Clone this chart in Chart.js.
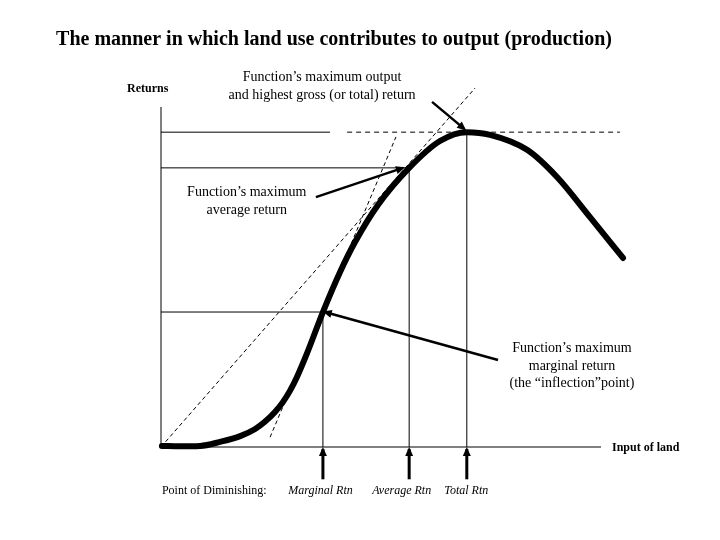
<!DOCTYPE html>
<html>
<head>
<meta charset="utf-8">
<script src="https://cdn.jsdelivr.net/npm/chart.js@4/dist/chart.umd.min.js"></script>
<style>
    html, body { margin: 0; padding: 0; background: #ffffff; }
    #chart { display: block; }
</style>
</head>
<body>
<canvas id="chart" width="720" height="540"></canvas>
<script>
// Production function: input of land (x) vs returns (y), in diagram units
const curveX = [0.02, 0.43, 0.89, 1.34, 1.8, 2.14, 2.36, 2.59, 2.77, 2.93, 3.09, 3.32, 3.68, 4.07, 4.41, 4.93, 5.64, 6.34, 6.95, 7.48, 8.32, 9.0, 9.75, 10.5];
const curveY = [0.03, 0.02, 0.03, 0.15, 0.32, 0.53, 0.74, 1.03, 1.32, 1.65, 2.06, 2.76, 3.97, 5.15, 6.03, 7.12, 8.21, 9.0, 9.26, 9.18, 8.74, 7.94, 6.76, 5.56];

// Points of diminishing returns (marginal, average, total)
const pointNames = ['Marginal Rtn', 'Average Rtn', 'Total Rtn'];
const pointX = [3.68, 5.64, 6.95];
const pointY = [3.97, 8.21, 9.26];

// Axis extents
const axisMaxX = 10;
const axisMaxY = 10;

// Dashed guide lines: ray from origin and tangent at the inflection
const rayX = [0, 7.14];
const rayY = [0, 10.56];
const tangentX = [2.48, 5.34];
const tangentY = [0.29, 9.12];

// Top guide: solid part then dashed part
const topSolidX = [0, 3.84];
const topDashX = [4.23, 10.43];

// Annotation arrows (from label to point)
const outputArrowX = [6.16, 6.9];
const outputArrowY = [10.15, 9.35];
const averageArrowX = [3.52, 5.5];
const averageArrowY = [7.35, 8.21];
const marginalArrowX = [7.66, 3.72];
const marginalArrowY = [2.56, 3.97];
const markerArrowY = [-0.95, -0.06];

const SERIF = '"Liberation Serif", "Times New Roman", serif';

function seg(xs, ys) {
    return xs.map((x, i) => ({ x: x, y: ys[i] }));
}

function line(data, opts) {
    return Object.assign({
        data: data,
        borderColor: '#000000',
        borderWidth: 1,
        pointRadius: 0,
        tension: 0,
        fill: false
    }, opts || {});
}

const datasets = [];

// curve on top
datasets.push(line(seg(curveX, curveY), {
    borderWidth: 6,
    cubicInterpolationMode: 'monotone',
    borderCapStyle: 'round'
}));

// axes
datasets.push(line([{ x: 0, y: 0 }, { x: axisMaxX, y: 0 }]));
datasets.push(line([{ x: 0, y: 0 }, { x: 0, y: axisMaxY }]));

// horizontal + vertical reference lines for each point
pointX.forEach((px, i) => {
    if (i < 2) {
        datasets.push(line([{ x: 0, y: pointY[i] }, { x: px, y: pointY[i] }]));
    }
    datasets.push(line([{ x: px, y: 0 }, { x: px, y: pointY[i] }]));
    datasets.push(line(seg([px, px], markerArrowY), { borderWidth: 3, arrow: true }));
});
datasets.push(line(topSolidX.map(x => ({ x: x, y: pointY[2] }))));
datasets.push(line(topDashX.map(x => ({ x: x, y: pointY[2] })), { borderDash: [5, 4] }));

// dashed guides
datasets.push(line(seg(rayX, rayY), { borderDash: [4, 3] }));
datasets.push(line(seg(tangentX, tangentY), { borderDash: [4, 3] }));

// label arrows
datasets.push(line(seg(outputArrowX, outputArrowY), { borderWidth: 2.5, arrow: true }));
datasets.push(line(seg(averageArrowX, averageArrowY), { borderWidth: 2.5, arrow: true }));
datasets.push(line(seg(marginalArrowX, marginalArrowY), { borderWidth: 2.5, arrow: true }));

const labels = [
    { text: 'Returns', x: -0.77, y: 10.53, align: 'left', font: 'bold 12px ' + SERIF },
    { text: 'Function’s maximum output', x: 3.66, y: 10.88, align: 'center', font: '14px ' + SERIF },
    { text: 'and highest gross (or total) return', x: 3.66, y: 10.35, align: 'center', font: '14px ' + SERIF },
    { text: 'Function’s maximum', x: 1.95, y: 7.5, align: 'center', font: '14px ' + SERIF },
    { text: 'average return', x: 1.95, y: 6.97, align: 'center', font: '14px ' + SERIF },
    { text: 'Function’s maximum', x: 9.34, y: 2.91, align: 'center', font: '14px ' + SERIF },
    { text: 'marginal return', x: 9.34, y: 2.38, align: 'center', font: '14px ' + SERIF },
    { text: '(the “inflection”point)', x: 9.34, y: 1.88, align: 'center', font: '14px ' + SERIF },
    { text: 'Input of land', x: 10.25, y: -0.03, align: 'left', font: 'bold 12px ' + SERIF },
    { text: 'Point of Diminishing:', x: 0.02, y: -1.29, align: 'left', font: '12px ' + SERIF }
];
const nameOffsets = [-0.79, -0.84, -0.51];
pointNames.forEach((name, i) => {
    labels.push({ text: name, x: pointX[i] + nameOffsets[i], y: -1.29, align: 'left', font: 'italic 12px ' + SERIF });
});

const annotationPlugin = {
    id: 'annotations',
    afterDatasetsDraw(chart) {
        const ctx = chart.ctx;
        const xs = chart.scales.x;
        const ys = chart.scales.y;

        // arrow heads
        chart.data.datasets.forEach((ds, i) => {
            if (!ds.arrow) return;
            const pts = chart.getDatasetMeta(i).data;
            const a = pts[pts.length - 2];
            const b = pts[pts.length - 1];
            const ang = Math.atan2(b.y - a.y, b.x - a.x);
            const len = 9, half = 4;
            ctx.save();
            ctx.fillStyle = '#000000';
            ctx.translate(b.x, b.y);
            ctx.rotate(ang);
            ctx.beginPath();
            ctx.moveTo(2, 0);
            ctx.lineTo(2 - len, -half);
            ctx.lineTo(2 - len, half);
            ctx.closePath();
            ctx.fill();
            ctx.restore();
        });

        // text
        ctx.save();
        ctx.fillStyle = '#000000';
        ctx.textBaseline = 'middle';
        labels.forEach(l => {
            ctx.font = l.font;
            ctx.textAlign = l.align;
            ctx.fillText(l.text, xs.getPixelForValue(l.x), ys.getPixelForValue(l.y));
        });
        ctx.font = 'bold 20px ' + SERIF;
        ctx.textAlign = 'center';
        ctx.fillText('The manner in which land use contributes to output (production)', 334, 40);
        ctx.restore();
    }
};

new Chart(document.getElementById('chart'), {
    type: 'line',
    data: { datasets: datasets },
    options: {
        responsive: false,
        animation: false,
        events: [],
        layout: { padding: { left: 161, right: 31, top: 73, bottom: 42 } },
        scales: {
            x: { type: 'linear', min: 0, max: 12, display: false },
            y: { type: 'linear', min: -1.5, max: 11, display: false }
        },
        plugins: {
            legend: { display: false },
            tooltip: { enabled: false }
        },
        elements: { line: { borderJoinStyle: 'round' } },
        clip: false
    },
    plugins: [annotationPlugin]
});
</script>
</body>
</html>
